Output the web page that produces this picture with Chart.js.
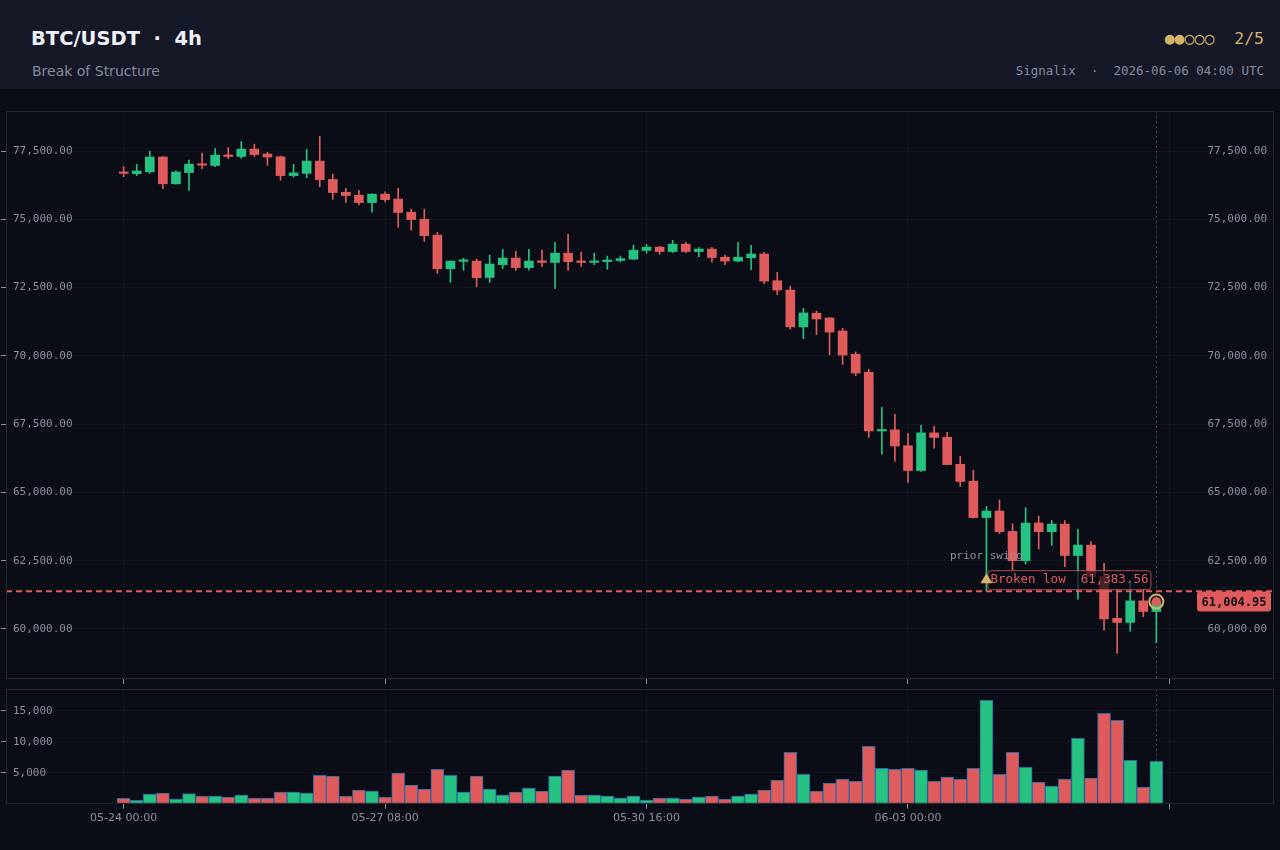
<!DOCTYPE html>
<html>
<head>
<meta charset="utf-8">
<script src="https://cdn.jsdelivr.net/npm/chart.js@4.4.1/dist/chart.umd.min.js"></script>
<style>
html, body { margin: 0; padding: 0; width: 1280px; height: 850px; overflow: hidden; background: #0a0d16; }
#head { position: absolute; left: 0; top: 0; width: 1280px; height: 89px; background: #151826; }
.t { position: absolute; white-space: pre; }
#title { left: 31px; top: 27px; font: bold 19.5px "DejaVu Sans"; line-height: 24px; color: #eef0f6; }
#sub { left: 32px; top: 62.5px; font: 14px "DejaVu Sans"; line-height: 17px; color: #858a9c; }
#score { right: 16px; top: 29px; font: 16.5px "DejaVu Sans Mono"; line-height: 20px; color: #d4b26a; }
#meta { right: 16px; top: 62px; font: 12.5px "DejaVu Sans Mono"; line-height: 17px; color: #858a9c; }
#pc { position: absolute; left: 0; top: 111px; }
#vc { position: absolute; left: 0; top: 689px; }
</style>
</head>
<body>
<div id="head">
  <div class="t" id="title">BTC/USDT  ·  4h</div>
  <div class="t" id="sub">Break of Structure</div>
  <div class="t" id="score">●●○○○  2/5</div>
  <div class="t" id="meta">Signalix  ·  2026-06-06 04:00 UTC</div>
</div>
<canvas id="pc" width="1280" height="573"></canvas>
<canvas id="vc" width="1280" height="139"></canvas>
<script>
// 4h candles, 05-24 00:00 .. 06-06 04:00
var opens = [76700, 76670, 76740, 77280, 76300, 76710, 77030, 76970, 77350, 77300,
  77570, 77390, 77290, 76600, 76680, 77130, 76460, 75990, 75880, 75610,
  75920, 75740, 75260, 75000, 74420, 73190, 73460, 73470, 72870, 73340,
  73580, 73230, 73480, 73420, 73760, 73460, 73420, 73450, 73490, 73540,
  73860, 73980, 73820, 74090, 73820, 73910, 73610, 73470, 73590, 73730,
  72750, 72410, 71060, 71560, 71390, 70910, 70060, 69400, 67250, 67290,
  66710, 65800, 67180, 67020, 66030, 65410, 64080, 64320, 63570, 62500,
  63880, 63560, 63840, 62690, 63070, 61920, 60390, 60240, 61030, 60640];
var highs = [76930, 77010, 77490, 77300, 76770, 77170, 77420, 77600, 77630, 77850,
  77750, 77450, 77320, 77010, 77560, 78040, 76650, 76130, 76060, 75930,
  76010, 76130, 75370, 75370, 74520, 73480, 73570, 73540, 73690, 73900,
  73830, 73900, 73870, 74160, 74450, 73800, 73760, 73650, 73650, 74050,
  74080, 74010, 74230, 74160, 73970, 73970, 73690, 74160, 74050, 73790,
  73060, 72550, 71740, 71640, 71400, 71010, 70140, 69510, 68120, 67860,
  67160, 67460, 67420, 67200, 66320, 65810, 64490, 64720, 63850, 64440,
  64130, 63970, 63970, 63650, 63200, 62400, 61450, 61790, 61450, 61150];
var lows = [76560, 76600, 76680, 76120, 76290, 76060, 76850, 76930, 77220, 77230,
  77300, 76980, 76430, 76540, 76520, 76190, 75730, 75620, 75530, 75260,
  75640, 74710, 74600, 74190, 73020, 72690, 73130, 72530, 72690, 73200,
  73130, 73140, 73270, 72470, 73130, 73270, 73340, 73170, 73440, 73530,
  73760, 73720, 73780, 73770, 73630, 73430, 73340, 73440, 73160, 72640,
  72240, 70980, 70630, 70780, 70040, 69690, 69270, 67020, 66400, 66140,
  65370, 65770, 66620, 66010, 65220, 64060, 61383.56, 63490, 62160, 62380,
  62930, 63060, 62280, 61090, 61900, 59960, 59110, 59920, 60450, 59490];
var closes = [76680, 76770, 77280, 76300, 76730, 77020, 76980, 77350, 77300, 77570,
  77370, 77280, 76600, 76700, 77130, 76450, 75980, 75870, 75610, 75920,
  75720, 75250, 74990, 74400, 73190, 73470, 73490, 72860, 73360, 73580,
  73230, 73470, 73420, 73760, 73450, 73420, 73470, 73510, 73560, 73870,
  73980, 73820, 74090, 73820, 73910, 73600, 73470, 73610, 73730, 72740,
  72410, 71060, 71570, 71350, 70870, 70030, 69370, 67250, 67290, 66700,
  65800, 67180, 67010, 66020, 65400, 64080, 64320, 63560, 62500, 63880,
  63560, 63840, 62690, 63070, 61920, 60370, 60240, 61030, 60640, 61004.95];
var volumes = [900, 550, 1560, 1720, 750, 1670, 1240, 1240, 1080, 1400,
  910, 910, 1880, 1880, 1720, 4620, 4460, 1240, 2200, 2040,
  1080, 4950, 3010, 2370, 5590, 4620, 1880, 4460, 2370, 1400,
  1880, 2530, 2040, 4460, 5430, 1400, 1400, 1240, 910, 1240,
  590, 910, 910, 750, 1080, 1240, 750, 1240, 1560, 2200,
  3820, 8330, 4780, 2040, 3330, 3980, 3660, 9300, 5750, 5590,
  5750, 5430, 3660, 4300, 3980, 5750, 16720, 4780, 8330, 5910,
  3490, 2850, 3980, 10590, 4140, 14620, 13490, 7040, 2690, 6880];

var timeTicks = [0, 20, 40, 60, 80];
var timeLabels = ['05-24 00:00', '05-27 08:00', '05-30 16:00', '06-03 00:00', ''];
var priceTicks = [60000, 62500, 65000, 67500, 70000, 72500, 75000, 77500];
var volTicks = [5000, 10000, 15000];

var swingIdx = 66;
var swingLow = 61383.56;
var lastIdx = 79;
var lastClose = 61004.95;

var UP = '#26c281', DOWN = '#e05c5c', GOLD = '#d4b26a';
var GRID = 'rgba(255,255,255,0.035)', TXT = '#8b90a0', FRAME = '#232836';

var cols = opens.map(function (o, i) { return closes[i] >= o ? UP : DOWN; });

function money(v) {
  return v.toLocaleString('en-US', { minimumFractionDigits: 2, maximumFractionDigits: 2 });
}

function setTicks(list) {
  return function (s) { s.ticks = list.map(function (v) { return { value: v }; }); };
}
function slimAxis(s) { s.width = 6; s.paddingTop = 0; s.paddingBottom = 0; }
function slimX(s) { s.paddingLeft = 0; s.paddingRight = 0; }

// frame around the plot area + dotted line at the last candle
var frame = {
  id: 'frame',
  beforeDatasetsDraw: function (chart) {
    var a = chart.chartArea, ctx = chart.ctx;
    var x = Math.round(chart.scales.x.getPixelForValue(lastIdx)) + 0.5;
    ctx.save();
    ctx.strokeStyle = 'rgba(150,150,160,0.45)';
    ctx.lineWidth = 1;
    ctx.setLineDash([2, 3]);
    ctx.beginPath();
    ctx.moveTo(x, a.top);
    ctx.lineTo(x, a.bottom);
    ctx.stroke();
    ctx.restore();
  },
  afterDraw: function (chart) {
    var a = chart.chartArea, ctx = chart.ctx;
    ctx.save();
    ctx.strokeStyle = FRAME;
    ctx.lineWidth = 1;
    ctx.strokeRect(a.left + 0.5, a.top + 0.5, a.right - a.left - 1, a.bottom - a.top - 1);
    ctx.restore();
  }
};

function roundRect(ctx, x, y, w, h, r) {
  ctx.beginPath();
  ctx.moveTo(x + r, y);
  ctx.arcTo(x + w, y, x + w, y + h, r);
  ctx.arcTo(x + w, y + h, x, y + h, r);
  ctx.arcTo(x, y + h, x, y, r);
  ctx.arcTo(x, y, x + w, y, r);
  ctx.closePath();
}

// broken level, swing marker, last price marker and tag
var bos = {
  id: 'bos',
  afterDatasetsDraw: function (chart) {
    var a = chart.chartArea, ctx = chart.ctx;
    var xs = chart.scales.x, ys = chart.scales.y;
    var ly = ys.getPixelForValue(swingLow);
    var sx = xs.getPixelForValue(swingIdx);
    ctx.save();

    ctx.strokeStyle = DOWN;
    ctx.lineWidth = 2;
    ctx.setLineDash([6, 4]);
    ctx.beginPath();
    ctx.moveTo(a.left, ly);
    ctx.lineTo(a.right, ly);
    ctx.stroke();
    ctx.setLineDash([]);

    ctx.font = '11px "DejaVu Sans Mono"';
    ctx.fillStyle = TXT;
    ctx.textAlign = 'center';
    ctx.textBaseline = 'middle';
    ctx.fillText('prior swing', sx, ly - 35);

    var txt = 'Broken low  ' + money(swingLow);
    ctx.font = '12.5px "DejaVu Sans Mono"';
    var tw = ctx.measureText(txt).width;
    var bx = sx + 1, by = ly - 21;
    roundRect(ctx, bx + 0.5, by + 0.5, tw + 5, 19, 3);
    ctx.fillStyle = 'rgba(10,13,22,0.72)';
    ctx.fill();
    ctx.strokeStyle = 'rgba(224,92,92,0.75)';
    ctx.lineWidth = 1;
    ctx.stroke();
    ctx.fillStyle = DOWN;
    ctx.textAlign = 'left';
    ctx.fillText(txt, bx + 3, by + 10);

    ctx.fillStyle = GOLD;
    ctx.beginPath();
    ctx.moveTo(sx, ly - 18);
    ctx.lineTo(sx + 6, ly - 8);
    ctx.lineTo(sx - 6, ly - 8);
    ctx.closePath();
    ctx.fill();

    var px = xs.getPixelForValue(lastIdx), py = ys.getPixelForValue(lastClose);
    ctx.beginPath();
    ctx.arc(px, py, 7, 0, Math.PI * 2);
    ctx.strokeStyle = GOLD;
    ctx.lineWidth = 2;
    ctx.stroke();
    ctx.beginPath();
    ctx.arc(px, py, 4.5, 0, Math.PI * 2);
    ctx.fillStyle = DOWN;
    ctx.fill();

    var tag = money(lastClose);
    ctx.font = 'bold 12px "DejaVu Sans Mono"';
    var w = ctx.measureText(tag).width + 9;
    roundRect(ctx, a.right - 3 - w, py - 10, w, 20, 3);
    ctx.fillStyle = DOWN;
    ctx.fill();
    ctx.fillStyle = '#0d1018';
    ctx.textAlign = 'center';
    ctx.fillText(tag, a.right - 3 - w / 2, py + 1);
    ctx.restore();
  }
};

var monoTick = { family: 'DejaVu Sans Mono', size: 11 };

new Chart(document.getElementById('pc'), {
  type: 'bar',
  data: {
    datasets: [{
      label: 'body',
      data: opens.map(function (o, i) { return { x: i, y: [o, closes[i]] }; }),
      backgroundColor: cols,
      borderWidth: 0,
      barThickness: 9,
      minBarLength: 1.5,
      grouped: false,
      order: 0
    }, {
      label: 'wick',
      data: lows.map(function (l, i) { return { x: i, y: [l, highs[i]] }; }),
      backgroundColor: cols,
      borderWidth: 0,
      barThickness: 1,
      grouped: false,
      order: 1
    }]
  },
  options: {
    responsive: false,
    animation: false,
    layout: { padding: 0 },
    plugins: { legend: { display: false }, tooltip: { enabled: false } },
    scales: {
      x: {
        type: 'linear', min: -9, max: 88, offset: false,
        afterBuildTicks: setTicks(timeTicks), afterFit: slimX,
        ticks: { display: false },
        grid: { color: GRID, tickColor: TXT, tickLength: 5, offset: false },
        border: { display: false }
      },
      y: {
        position: 'left', min: 58169, max: 78965,
        afterBuildTicks: setTicks(priceTicks), afterFit: slimAxis,
        ticks: { mirror: true, padding: 7, color: TXT, font: monoTick, callback: money },
        grid: { color: GRID, tickColor: TXT, tickLength: 5 },
        border: { display: false }
      },
      y2: {
        position: 'right', min: 58169, max: 78965,
        afterBuildTicks: setTicks(priceTicks), afterFit: slimAxis,
        ticks: { mirror: true, padding: -7, color: TXT, font: monoTick, callback: money },
        grid: { display: false },
        border: { display: false }
      }
    }
  },
  plugins: [frame, bos]
});

new Chart(document.getElementById('vc'), {
  type: 'bar',
  data: {
    datasets: [{
      label: 'volume',
      data: volumes.map(function (v, i) { return { x: i, y: v }; }),
      backgroundColor: cols,
      borderColor: '#2b6aa6',
      borderWidth: 1,
      barThickness: 13,
      grouped: false
    }]
  },
  options: {
    responsive: false,
    animation: false,
    layout: { padding: { right: 6 } },
    plugins: { legend: { display: false }, tooltip: { enabled: false } },
    scales: {
      x: {
        type: 'linear', min: -9, max: 88, offset: false,
        afterBuildTicks: setTicks(timeTicks), afterFit: slimX,
        ticks: {
          padding: 3, color: TXT, maxRotation: 0, autoSkip: false,
          font: { family: 'DejaVu Sans', size: 11 },
          callback: function (v) { return timeLabels[timeTicks.indexOf(v)]; }
        },
        grid: { color: GRID, tickColor: TXT, tickLength: 5, offset: false },
        border: { display: false }
      },
      y: {
        position: 'left', min: 0, max: 18550,
        afterBuildTicks: setTicks(volTicks), afterFit: slimAxis,
        ticks: { mirror: true, padding: 7, color: TXT, font: monoTick,
          callback: function (v) { return v.toLocaleString('en-US'); } },
        grid: { color: GRID, tickColor: TXT, tickLength: 5 },
        border: { display: false }
      }
    }
  },
  plugins: [frame]
});
</script>
</body>
</html>
